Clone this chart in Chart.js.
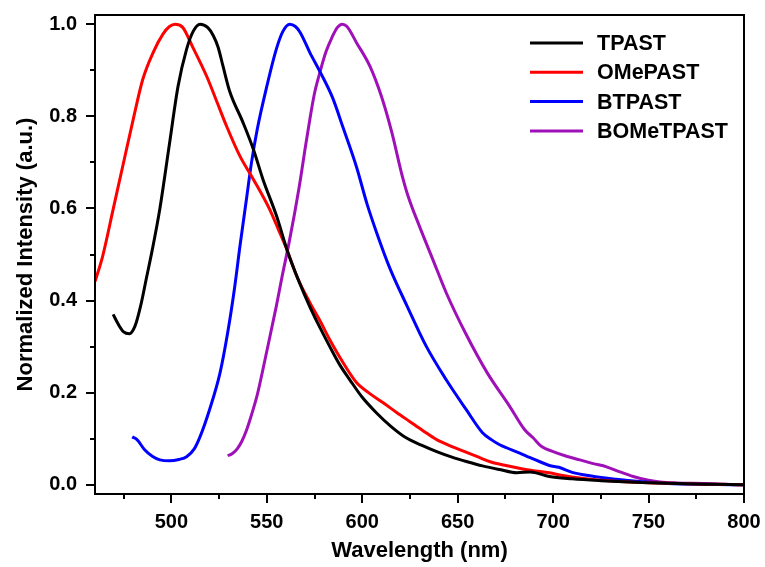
<!DOCTYPE html>
<html lang="en">
<head>
  <meta charset="UTF-8">
  <title>Normalized PL Spectra</title>
  <script src="https://cdn.jsdelivr.net/npm/chart.js"></script>
  <style>
    html, body { margin: 0; padding: 0; background: #fff; }
  </style>
</head>
<body>
  <canvas id="plChart" width="765" height="567"></canvas>

  <script>
    // Emission spectra (wavelength in nm, normalized intensity)
    const tpastX = [469.5, 472, 475, 478, 481, 484, 487, 490, 494, 499, 503.5, 508, 511.5, 515, 519, 522, 524.5, 527, 530.5, 537.5, 543, 548, 555, 561, 567, 572.5, 578, 583, 588, 593.5, 600, 607.5, 615, 623, 631, 639, 647, 655, 663, 672, 681, 688, 698, 710, 725, 740, 755, 770, 785, 800];
    const tpastY = [0.37, 0.35, 0.332, 0.328, 0.345, 0.39, 0.45, 0.51, 0.60, 0.74, 0.865, 0.946, 0.985, 1.0, 0.993, 0.975, 0.95, 0.91, 0.855, 0.787, 0.728, 0.663, 0.585, 0.505, 0.44, 0.387, 0.34, 0.30, 0.262, 0.228, 0.19, 0.156, 0.127, 0.102, 0.086, 0.072, 0.06, 0.05, 0.041, 0.033, 0.026, 0.028, 0.018, 0.013, 0.009, 0.006, 0.004, 0.002, 0.001, 0.0];

    const omepastX = [460, 464, 469.5, 474.5, 480, 485, 490.5, 495.5, 499, 502, 506, 511, 518.5, 524, 529, 536, 543, 551.5, 556, 560.5, 566, 572.5, 578, 583, 590, 597, 604, 611, 618, 625, 632, 639, 647, 655, 661, 667, 674, 681, 689, 698, 705, 715, 725, 740, 755, 770, 785, 800];
    const omepastY = [0.441, 0.496, 0.598, 0.691, 0.793, 0.88, 0.939, 0.978, 0.995, 1.0, 0.993, 0.952, 0.887, 0.83, 0.778, 0.713, 0.663, 0.598, 0.555, 0.511, 0.45, 0.396, 0.355, 0.315, 0.265, 0.222, 0.198, 0.178, 0.157, 0.137, 0.117, 0.098, 0.083, 0.07, 0.06, 0.05, 0.043, 0.037, 0.031, 0.026, 0.02, 0.014, 0.01, 0.006, 0.004, 0.002, 0.001, 0.0];

    const btpastX = [479.5, 482, 486, 490, 494, 499, 504, 508, 512, 515, 520, 525.5, 529.5, 533, 536, 539.5, 542, 545, 550, 555, 558.5, 562, 565, 567.5, 572.5, 578, 584.5, 590, 597, 602.5, 607.5, 614.5, 623.5, 633.5, 644, 654.5, 663, 668, 672, 682.5, 688, 698, 703, 710, 720, 733, 745, 760, 780, 800];
    const btpastY = [0.104, 0.098, 0.076, 0.062, 0.054, 0.052, 0.055, 0.061, 0.078, 0.104, 0.163, 0.243, 0.33, 0.424, 0.52, 0.625, 0.70, 0.772, 0.865, 0.946, 0.985, 1.0, 0.995, 0.982, 0.939, 0.896, 0.84, 0.775, 0.69, 0.61, 0.548, 0.47, 0.388, 0.301, 0.228, 0.163, 0.113, 0.097, 0.087, 0.069, 0.059, 0.042, 0.038, 0.027, 0.019, 0.012, 0.007, 0.003, 0.001, 0.0];

    const bometpastX = [529.5, 532, 534.5, 537, 539.5, 542, 545, 550, 555, 558, 561.5, 564.5, 567.5, 570, 572.5, 575, 578, 581, 584, 587, 589.5, 592, 597, 604, 610, 615.5, 620.5, 624, 630, 637, 644, 654, 665.5, 677, 685, 689.5, 694, 700, 707, 714, 721, 728, 735, 742, 750, 756, 765, 780, 790, 800];
    const bometpastY = [0.063, 0.068, 0.078, 0.095, 0.12, 0.152, 0.195, 0.29, 0.388, 0.452, 0.522, 0.588, 0.66, 0.728, 0.792, 0.85, 0.898, 0.94, 0.97, 0.993, 1.0, 0.995, 0.96, 0.909, 0.844, 0.765, 0.678, 0.627, 0.561, 0.489, 0.417, 0.33, 0.243, 0.172, 0.12, 0.102, 0.083, 0.072, 0.062, 0.054, 0.046, 0.039, 0.028, 0.018, 0.01, 0.006, 0.004, 0.003, 0.001, 0.0];

    const seriesNames = ['TPAST', 'OMePAST', 'BTPAST', 'BOMeTPAST'];
    const seriesColors = ['#000000', '#ff0000', '#0000ff', '#a010b8'];

    // Axis ticks
    const xMajorTicks = [500, 550, 600, 650, 700, 750, 800];
    const xMinorTicks = [475, 525, 575, 625, 675, 725, 775];
    const yMajorTicks = [0.0, 0.2, 0.4, 0.6, 0.8, 1.0];
    const yMinorTicks = [0.1, 0.3, 0.5, 0.7, 0.9];

    const FONT = "'Liberation Sans', Arial, sans-serif";

    function toPoints(xs, ys) {
      return xs.map((x, i) => ({ x: x, y: ys[i] }));
    }

    const spectra = [
      toPoints(tpastX, tpastY),
      toPoints(omepastX, omepastY),
      toPoints(btpastX, btpastY),
      toPoints(bometpastX, bometpastY)
    ];

    // Frame, outward tick marks and the inset legend
    const framePlugin = {
      id: 'frameTicks',
      afterDraw(chart) {
        const ctx = chart.ctx;
        const area = chart.chartArea;
        const xs = chart.scales.x;
        const ys = chart.scales.y;
        ctx.save();
        ctx.strokeStyle = '#000';
        ctx.lineWidth = 2;
        ctx.strokeRect(area.left, area.top, area.right - area.left, area.bottom - area.top);

        ctx.beginPath();
        xMajorTicks.forEach(v => {
          const px = Math.round(xs.getPixelForValue(v));
          ctx.moveTo(px, area.bottom);
          ctx.lineTo(px, area.bottom + 9);
        });
        xMinorTicks.forEach(v => {
          const px = Math.round(xs.getPixelForValue(v));
          ctx.moveTo(px, area.bottom);
          ctx.lineTo(px, area.bottom + 5);
        });
        yMajorTicks.forEach(v => {
          const py = Math.round(ys.getPixelForValue(v));
          ctx.moveTo(area.left, py);
          ctx.lineTo(area.left - 9, py);
        });
        yMinorTicks.forEach(v => {
          const py = Math.round(ys.getPixelForValue(v));
          ctx.moveTo(area.left, py);
          ctx.lineTo(area.left - 5, py);
        });
        ctx.stroke();

        // legend
        ctx.font = 'bold 21.5px ' + FONT;
        ctx.textBaseline = 'middle';
        ctx.textAlign = 'left';
        chart.data.datasets.forEach((ds, i) => {
          const y = 43 + i * 29.3;
          ctx.strokeStyle = ds.borderColor;
          ctx.lineWidth = 3;
          ctx.beginPath();
          ctx.moveTo(530, y);
          ctx.lineTo(583, y);
          ctx.stroke();
          ctx.fillStyle = '#000';
          ctx.fillText(ds.label, 597, y + 1);
        });
        ctx.restore();
      }
    };

    const config = {
      type: 'line',
      data: {
        datasets: seriesNames.map((name, i) => ({
          label: name,
          data: spectra[i],
          borderColor: seriesColors[i],
          borderWidth: 3,
          pointRadius: 0,
          fill: false,
          tension: 0.4,
          cubicInterpolationMode: 'monotone'
        }))
      },
      options: {
        responsive: false,
        animation: false,
        devicePixelRatio: 1,
        layout: { padding: { top: 15, right: 21, left: 0, bottom: 0 } },
        plugins: {
          legend: { display: false },
          tooltip: { enabled: false }
        },
        scales: {
          x: {
            type: 'linear',
            min: 460,
            max: 800,
            afterBuildTicks: (scale) => { scale.ticks = xMajorTicks.map(v => ({ value: v })); },
            afterFit: (scale) => {
              scale.height = 73;
              scale.paddingLeft = 0;
              scale.paddingRight = 0;
            },
            grid: { display: false, drawTicks: false },
            border: { display: false },
            ticks: {
              padding: 16,
              color: '#000',
              maxRotation: 0,
              font: { family: FONT, size: 20, weight: 'bold' }
            },
            title: {
              display: true,
              text: 'Wavelength (nm)',
              color: '#000',
              padding: { top: 0, bottom: 3 },
              font: { family: FONT, size: 22, weight: 'bold' }
            }
          },
          y: {
            type: 'linear',
            min: -0.02,
            max: 1.02,
            afterBuildTicks: (scale) => { scale.ticks = yMajorTicks.map(v => ({ value: v })); },
            afterFit: (scale) => {
              scale.width = 95;
              scale.paddingTop = 0;
              scale.paddingBottom = 0;
            },
            grid: { display: false, drawTicks: false },
            border: { display: false },
            ticks: {
              padding: 18,
              color: '#000',
              font: { family: FONT, size: 20, weight: 'bold' },
              callback: (value) => Number(value).toFixed(1)
            },
            title: {
              display: true,
              text: 'Normalized Intensity (a.u.)',
              color: '#000',
              padding: { top: 13, bottom: 0 },
              font: { family: FONT, size: 22, weight: 'bold' }
            }
          }
        }
      },
      plugins: [framePlugin]
    };

    const plChart = new Chart(document.getElementById('plChart'), config);
  </script>
</body>
</html>
